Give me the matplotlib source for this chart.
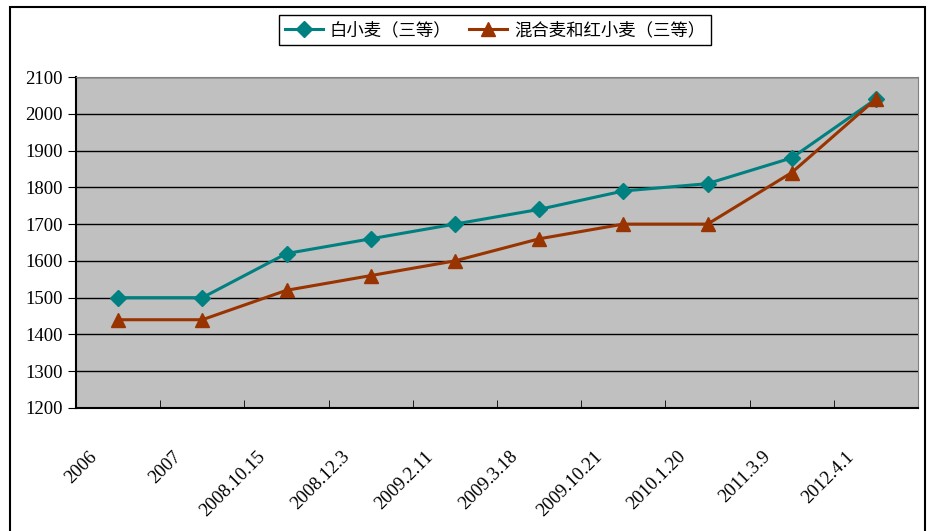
import matplotlib.pyplot as plt
import matplotlib
from matplotlib.patches import Rectangle
from matplotlib.transforms import ScaledTranslation

plt.rcParams['font.family'] = ['Liberation Serif', 'Noto Sans CJK SC']

dates = ['2006', '2007', '2008.10.15', '2008.12.3', '2009.2.11', '2009.3.18',
         '2009.10.21', '2010.1.20', '2011.3.9', '2012.4.1']
white_wheat = [1500, 1500, 1620, 1660, 1700, 1740, 1790, 1810, 1880, 2040]
mixed_wheat = [1440, 1440, 1520, 1560, 1600, 1660, 1700, 1700, 1840, 2040]
yticks = [1200, 1300, 1400, 1500, 1600, 1700, 1800, 1900, 2000, 2100]

fig = plt.figure(figsize=(9.33, 5.31), dpi=100)
ax = fig.add_axes([76/933, 1 - 408/531, (918 - 76)/933, (408 - 77)/531])
ax.set_facecolor('#C0C0C0')

x = list(range(len(dates)))
ax.plot(x, white_wheat, '-D', color='#008080', lw=2.2, ms=8, label='白小麦（三等）', zorder=3)
ax.plot(x, mixed_wheat, '-^', color='#993300', lw=2.2, ms=10, label='混合麦和红小麦（三等）', zorder=3)

ax.set_xlim(-0.5, len(dates) - 0.5)
ax.set_ylim(1200, 2100)
ax.set_yticks(yticks)
ax.set_yticklabels([str(v) for v in yticks], fontsize=13.5)
ax.grid(axis='y', color='black', lw=1)
ax.set_axisbelow(True)

ax.set_xticks(x)
ax.set_xticklabels(dates, fontsize=13.5, rotation=45, ha='right', rotation_mode='anchor')
ax.tick_params(axis='x', length=0, pad=18)
shift = ScaledTranslation(-30/100, -15/100, fig.dpi_scale_trans)
for lab in ax.get_xticklabels():
    lab.set_transform(lab.get_transform() + shift)
ax.set_xticks([i + 0.5 for i in x[:-1]], minor=True)
ax.tick_params(axis='x', which='minor', direction='in', length=6, color='black')
ax.tick_params(axis='y', direction='out', length=6, color='black')

for side in ['top', 'right']:
    ax.spines[side].set_color('#808080')
ax.spines['left'].set_color('black')
ax.spines['bottom'].set_color('black')
ax.spines['left'].set_linewidth(1.5)
ax.spines['bottom'].set_linewidth(1.5)

leg = fig.legend(loc='center', bbox_to_anchor=(495/933, 1 - 30/531), ncol=2,
                 prop={'family': ['Noto Sans CJK SC'], 'size': 12.5},
                 fancybox=False, edgecolor='black', framealpha=1,
                 handlelength=2.2, handletextpad=0.4, columnspacing=1.0,
                 borderpad=0.35)
leg.get_frame().set_linewidth(1)

fig.patches.append(Rectangle((10/933, -0.01), (925 - 10)/933, 1.01 - 7/531,
                             transform=fig.transFigure, fill=False,
                             edgecolor='black', lw=1.5))

plt.savefig('out.png', dpi=100)
